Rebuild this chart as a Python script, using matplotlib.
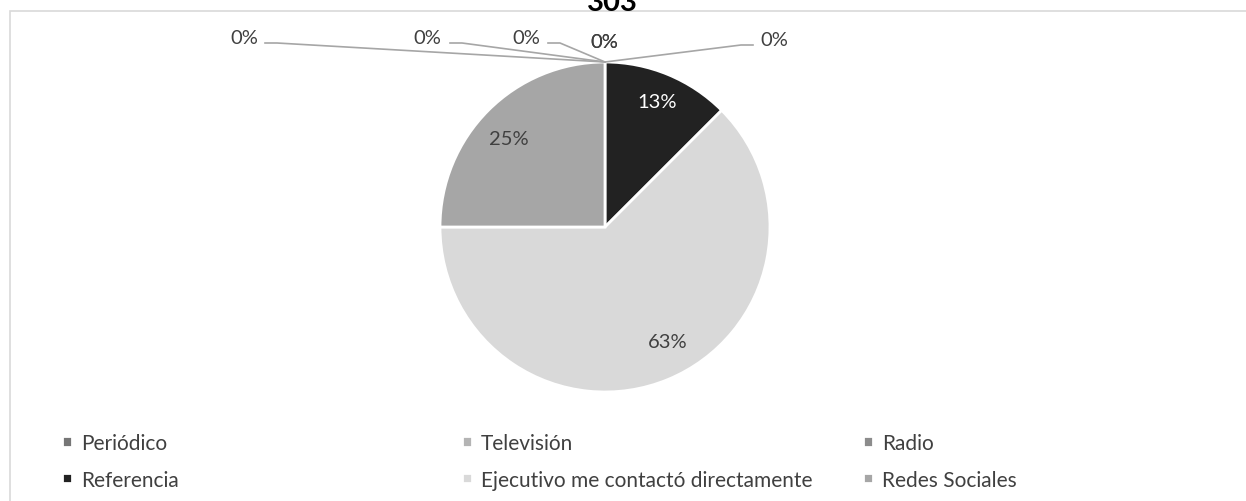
import math
import matplotlib
matplotlib.use("Agg")
import matplotlib.pyplot as plt
from matplotlib.patches import Rectangle
from matplotlib.lines import Line2D

# Survey answers: how the client heard about the service
categories = ["Periódico", "Televisión", "Radio", "Referencia",
              "Ejecutivo me contactó directamente", "Redes Sociales"]
shares = [0.0, 0.0, 0.0, 12.5, 62.5, 25.0]
colors = ["#767676", "#b4b4b4", "#8c8c8c", "#222222", "#d9d9d9", "#a6a6a6"]
title = "303"

W, H = 1246, 502
FONT = "Lato"
TXT = "#404040"

fig = plt.figure(figsize=(W / 100, H / 100), dpi=100)
fig.patch.set_facecolor("white")

# chart-area frame
fig.patches.append(Rectangle((9.5 / W, -0.05), 1.2, 1 - 12 / H + 0.05,
                             transform=fig.transFigure, fill=False,
                             edgecolor="#d9d9d9", linewidth=1.2))

# title (sits above the frame, clipped by the canvas)
fig.text(612 / W, 1 - 11 / H, title, ha="center", va="baseline",
         fontsize=21, fontweight="bold", family=FONT, color="black")

# pie axes: centre (605, 228) px, radius 165 px
cx, cy, r = 605, 228, 165
ax = fig.add_axes([(cx - r) / W, (H - cy - r) / H, 2 * r / W, 2 * r / H])

text_colors = {3: "white"}
# placement of each in-slice label: (radial fraction, angle shift in degrees)
label_place = {3: (0.82, 0.0), 4: (0.79, 6.0), 5: (0.79, 2.5)}


def pct_text(v):
    return f"{math.floor(v + 0.5)}%"


wedges, _, autotexts = ax.pie(
    shares, colors=colors, startangle=90, counterclock=False,
    radius=1, autopct=lambda p: pct_text(p) if p > 0 else "",
    pctdistance=0.8,
    wedgeprops=dict(edgecolor="white", linewidth=2),
    textprops=dict(fontsize=14.5, family=FONT, color=TXT))
for i, (w, t) in enumerate(zip(wedges, autotexts)):
    t.set_color(text_colors.get(i, TXT))
    if i in label_place:
        d, shift = label_place[i]
        mid = math.radians((w.theta1 + w.theta2) / 2 + shift)
        t.set_position((d * math.cos(mid), d * math.sin(mid)))
ax.set_xlim(-1, 1)
ax.set_ylim(-1, 1)
ax.set_aspect("equal")
ax.axis("off")

# zero-valued labels gathered above the top of the pie with leader lines
fig.canvas.draw()
top = fig.transFigure.inverted().transform(ax.transData.transform((0, 1)))
zero_idx = [i for i, v in enumerate(shares) if v == 0]
zero_label_layout = [  # (label x px, label y px, leader start x px, leader y px)
    (244, 39, 265, 44),
    (427, 39, 450, 44),
    (526, 39, 548, 44),
    (604, 42, None, None),
    (604, 42, None, None),
    (774, 40, 753, 46),
]
for k, (lx, ly, sx, sy) in enumerate(zero_label_layout):
    v = shares[zero_idx[k % len(zero_idx)]]
    fig.text(lx / W, 1 - ly / H, pct_text(v), ha="center", va="center",
             fontsize=14.5, family=FONT, color=TXT)
    if sx is not None:
        elbow = sx + (12 if sx < cx else -12)
        xs = [sx / W, elbow / W, top[0]]
        ys = [1 - sy / H, 1 - sy / H, top[1]]
        fig.lines.append(Line2D(xs, ys, transform=fig.transFigure,
                                color="#a6a6a6", linewidth=1.2))

# legend: three columns, two rows (row-major order)
col_x = [62, 462, 863]
for j, x in enumerate(col_x):
    handles = [wedges[j], wedges[j + 3]]
    labels = [categories[j], categories[j + 3]]
    fig.legend(handles, labels, loc="upper left",
               bbox_to_anchor=(x / W, 1 - 434 / H), frameon=False,
               handlelength=0.5, handleheight=0.4, handletextpad=0.4,
               labelspacing=0.8, borderpad=0, borderaxespad=0,
               prop=dict(family=FONT, size=15), labelcolor=TXT)

fig.savefig("out.png", dpi=100)
